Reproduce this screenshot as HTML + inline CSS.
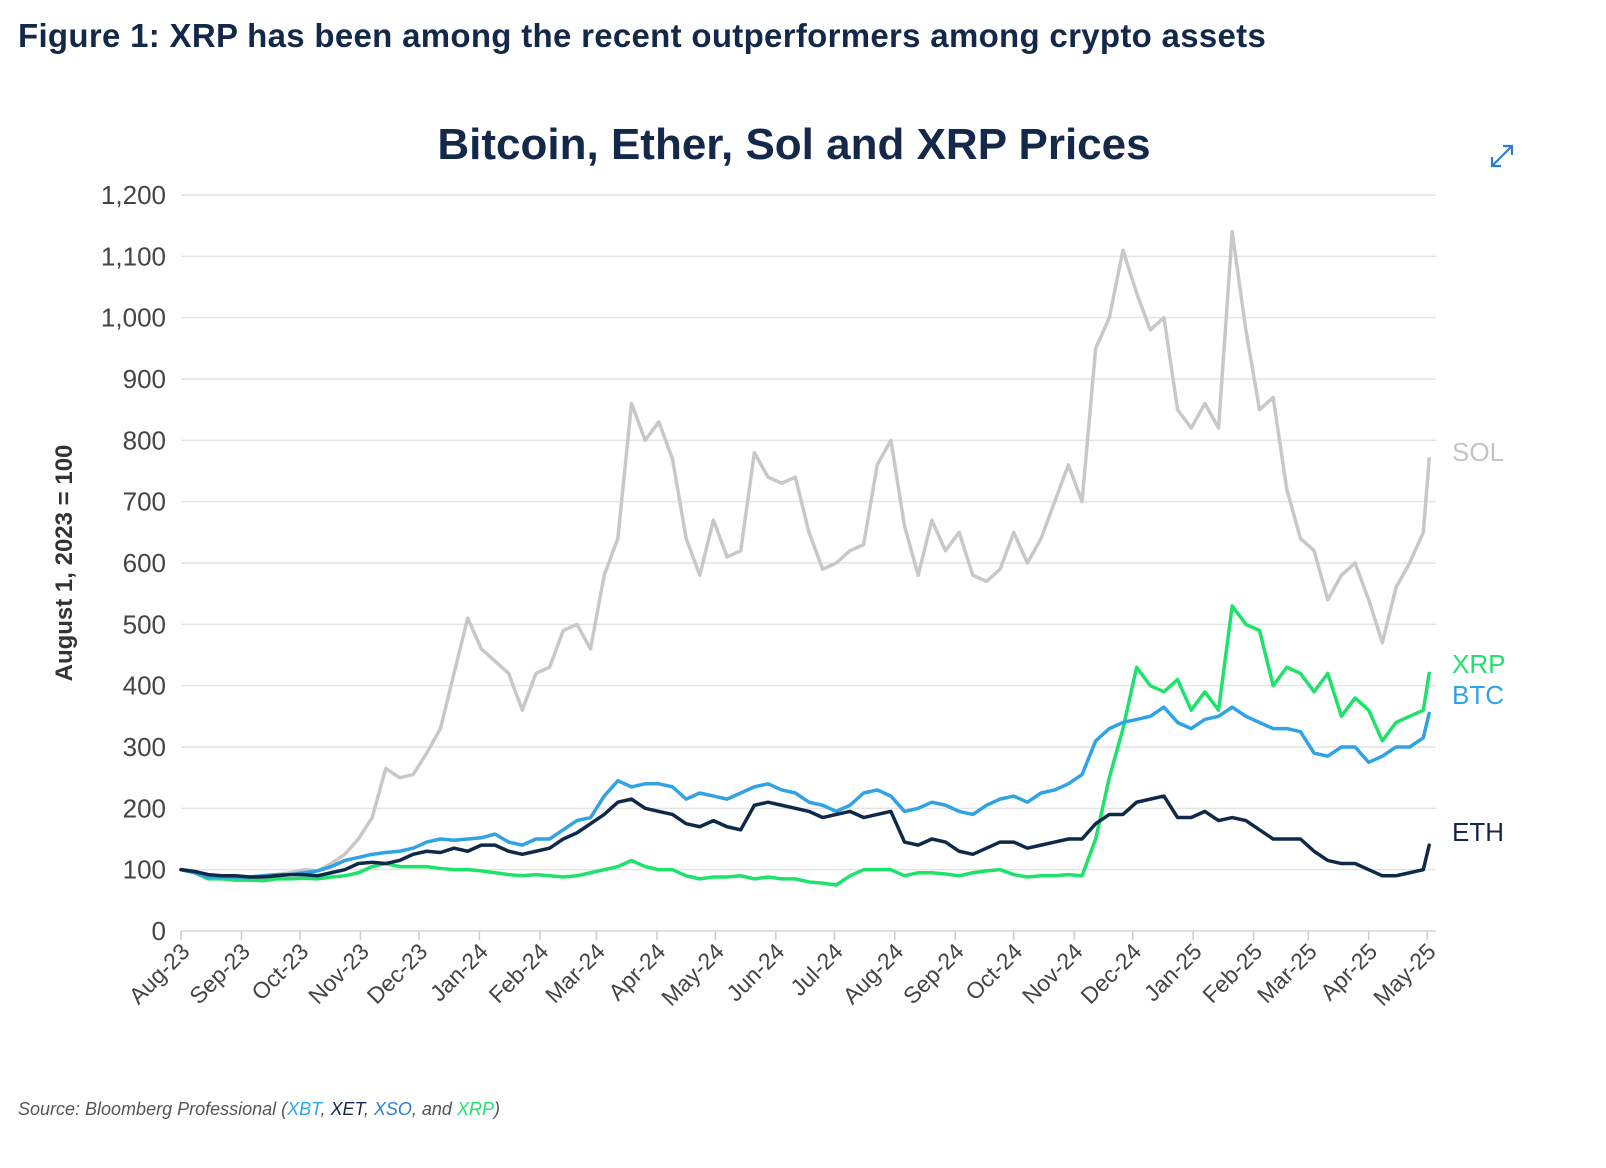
<!DOCTYPE html>
<html><head><meta charset="utf-8"><style>
html,body{margin:0;padding:0;background:#fff;width:1606px;height:1168px;overflow:hidden}
svg{display:block}
text{font-family:"Liberation Sans",sans-serif}
</style></head><body>
<svg id="chart" width="1606" height="1168" viewBox="0 0 1606 1168">
<text x="18" y="47" font-size="33" font-weight="bold" letter-spacing="0.3" fill="#14294a">Figure 1: XRP has been among the recent outperformers among crypto assets</text>
<text x="794" y="159" font-size="44" font-weight="bold" fill="#14294a" text-anchor="middle">Bitcoin, Ether, Sol and XRP Prices</text>
<g stroke="#2a7fd4" stroke-width="2.2" fill="none">
<path d="M1492 166 L1512 146 M1503 146 L1512 146 L1512 155 M1492 157 L1492 166 L1501 166"/>
</g>
<g id="grid"></g><g id="axes"></g><g id="lines"></g>
<text transform="translate(72,563) rotate(-90)" font-size="24" font-weight="bold" fill="#333" text-anchor="middle">August 1, 2023 = 100</text>
<text x="1452" y="461" font-size="26" fill="#c4c4c4">SOL</text>
<text x="1452" y="673" font-size="26" fill="#1ee36a">XRP</text>
<text x="1452" y="704" font-size="26" fill="#2fa3e6">BTC</text>
<text x="1452" y="841" font-size="26" fill="#14294a">ETH</text>
<text x="18" y="1115" font-size="18" font-style="italic" fill="#555">Source: Bloomberg Professional (<tspan fill="#2fa3e6">XBT</tspan>, <tspan fill="#14294a">XET</tspan>, <tspan fill="#2a7fd4">XSO</tspan>, and <tspan fill="#1ee36a">XRP</tspan>)</text>
</svg>
<script>
const yTicks=[0,100,200,300,400,500,600,700,800,900,1000,1100,1200];
const monthLabels=["Aug-23","Sep-23","Oct-23","Nov-23","Dec-23","Jan-24","Feb-24","Mar-24","Apr-24","May-24","Jun-24","Jul-24","Aug-24","Sep-24","Oct-24","Nov-24","Dec-24","Jan-25","Feb-25","Mar-25","Apr-25","May-25"];
const sol=[100,98,90,88,90, 88,90,92,95, 100,98,110,125,150, 185,265,250,255, 290,330,420,510, 460,440,420,360,420, 430,490,500,460, 580,640,860,800, 830,770,640,580,670, 610,620,780,740, 730,740,650,590, 600,620,630,760,800, 660,580,670,620, 650,580,570,590, 650,600,640,700,760, 700,950,1000,1110, 1040,980,1000,850,820, 860,820,1140,980, 850,870,720,640, 620,540,580,600, 540,470,560,600,650, 770];
const btc=[100,95,88,88,88, 88,90,92,92, 95,98,105,115,120, 125,128,130,135, 145,150,148,150, 152,158,145,140,150, 150,165,180,185, 220,245,235,240, 240,235,215,225,220, 215,225,235,240, 230,225,210,205, 195,205,225,230,220, 195,200,210,205, 195,190,205,215, 220,210,225,230,240, 255,310,330,340, 345,350,365,340,330, 345,350,365,350, 340,330,330,325, 290,285,300,300, 275,285,300,300,315, 355];
const eth=[100,97,92,90,90, 88,88,90,92, 92,90,95,100,110, 112,110,115,125, 130,128,135,130, 140,140,130,125,130, 135,150,160,175, 190,210,215,200, 195,190,175,170,180, 170,165,205,210, 205,200,195,185, 190,195,185,190,195, 145,140,150,145, 130,125,135,145, 145,135,140,145,150, 150,175,190,190, 210,215,220,185,185, 195,180,185,180, 165,150,150,150, 130,115,110,110, 100,90,90,95,100, 140];
const xrp=[100,95,85,85,83, 83,82,85,85, 86,85,88,90,95, 105,110,105,105, 105,102,100,100, 98,95,92,90,92, 90,88,90,95, 100,105,115,105, 100,100,90,85,88, 88,90,85,88, 85,85,80,78, 75,90,100,100,100, 90,95,95,93, 90,95,98,100, 92,88,90,90,92, 90,150,250,330, 430,400,390,410,360, 390,360,530,500, 490,400,430,420, 390,420,350,380, 360,310,340,350,360, 420];

const NS="http://www.w3.org/2000/svg";
const X0=181,X1=1436,Y0=931,Y1=195,DMAX=643.5;
const t0=Date.UTC(2023,7,1);
const xs=d=>X0+(d/DMAX)*(X1-X0);
const ys=v=>Y0-(v/1200)*(Y0-Y1);
function mk(tag,attrs,parent){const e=document.createElementNS(NS,tag);for(const k in attrs)e.setAttribute(k,attrs[k]);parent.appendChild(e);return e;}
const grid=document.getElementById('grid'),axes=document.getElementById('axes'),lines=document.getElementById('lines');
yTicks.forEach(v=>{
  const l=mk('line',{x1:X0,x2:X1,y1:ys(v),y2:ys(v),stroke:v===0?'#d6d6d6':'#e4e4e4','stroke-width':1.5},grid);
  
  
  const t=mk('text',{x:166,y:ys(v)+9,'font-size':26,fill:'#444','text-anchor':'end'},axes);
  t.textContent=v.toLocaleString('en-US');
  
  
});
monthLabels.forEach((lab,i)=>{
  const d=(Date.UTC(2023,7+i,1)-t0)/86400000;
  const x=xs(d);
  const tk=mk('line',{x1:x,x2:x,y1:Y0,y2:Y0+9,stroke:'#ccc','stroke-width':1.5},axes);
  
  
  const t=mk('text',{transform:`translate(${x+10},${Y0+22}) rotate(-45)`,'font-size':23,fill:'#444','text-anchor':'end'},axes);
  t.textContent=lab;
  
  
});
function draw(arr,color,name){
  const pts=arr.map((v,i)=>xs(Math.min(i*7,640))+','+ys(v)).join(' ');
  const p=mk('polyline',{points:pts,fill:'none',stroke:color,'stroke-width':3.5,'stroke-linejoin':'round','stroke-linecap':'round'},lines);
  
  
}
draw(sol,'#c8c8c8','sol-line');
draw(xrp,'#1ee36a','xrp-line');
draw(btc,'#2fa3e6','btc-line');
draw(eth,'#0f2a48','eth-line');
</script>
</body></html>
